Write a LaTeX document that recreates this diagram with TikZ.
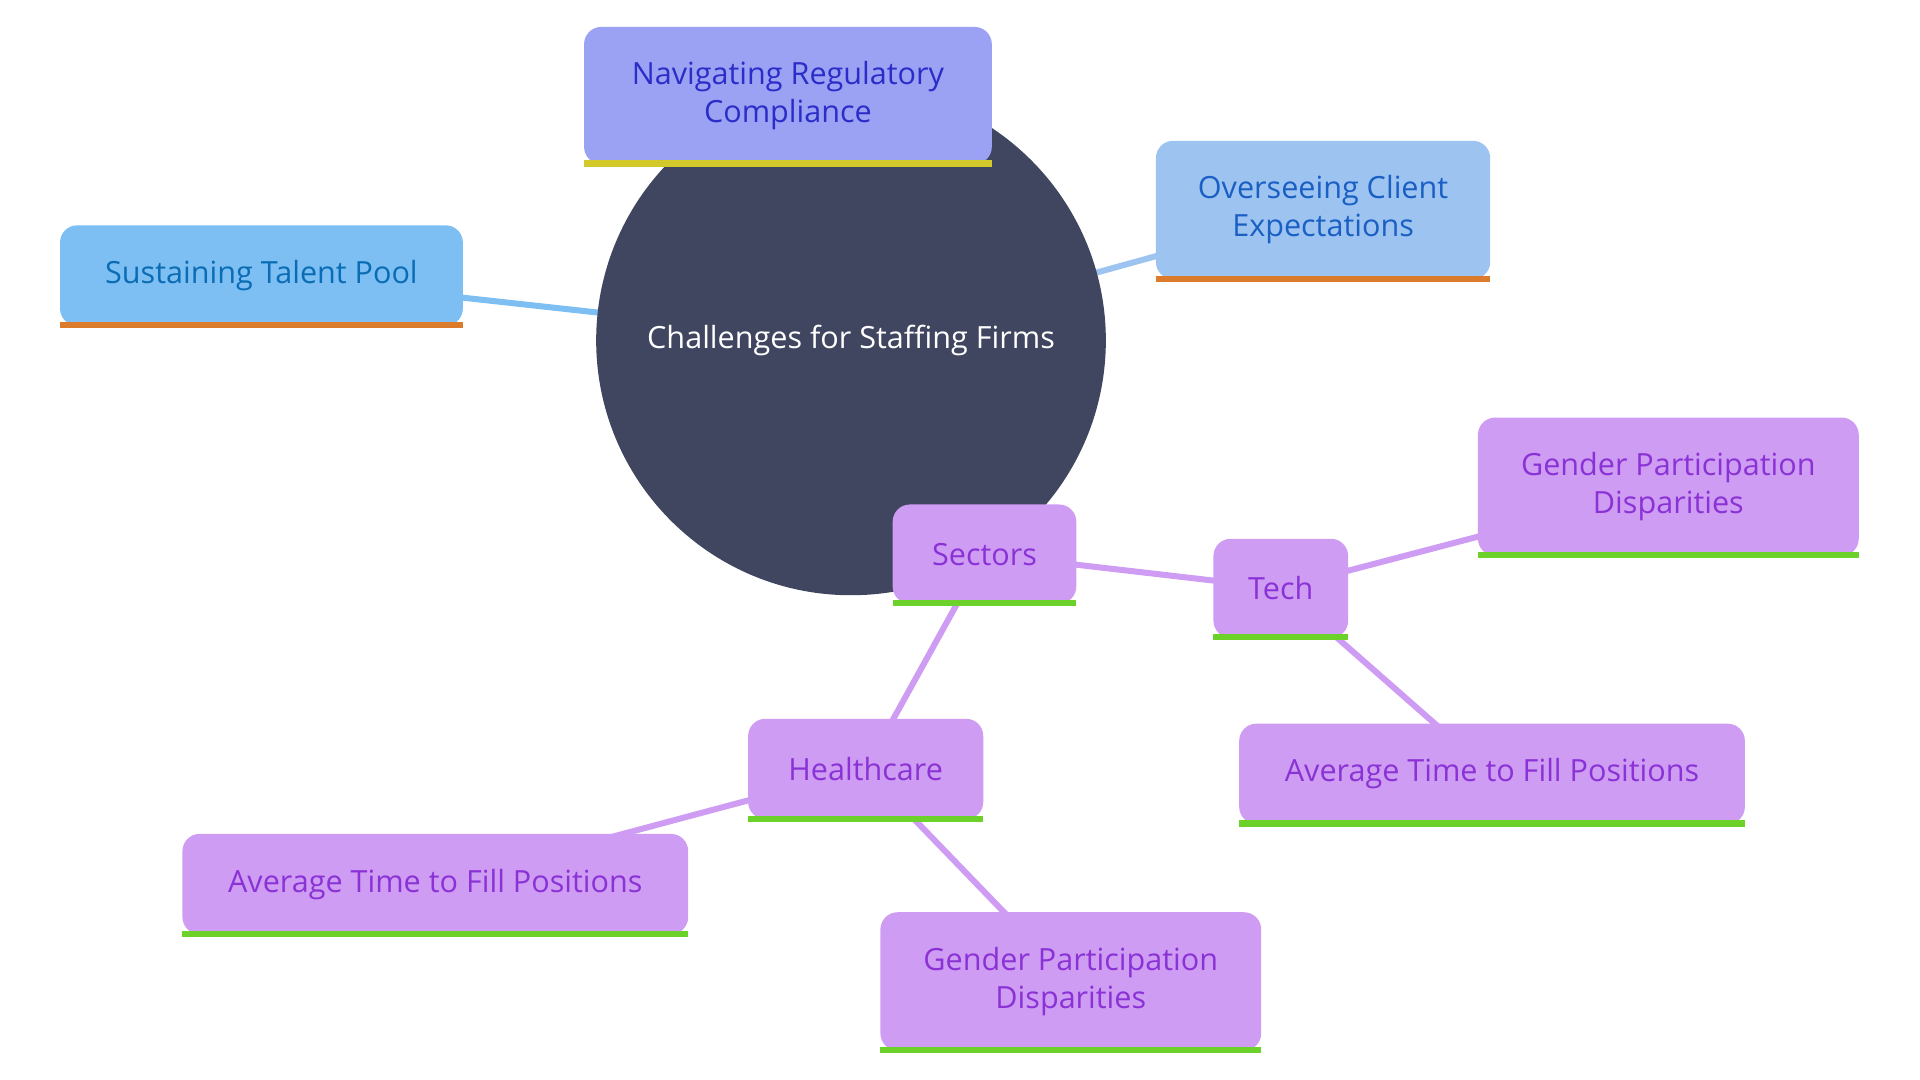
\documentclass[tikz,border=0pt]{standalone}
\usepackage{fontspec}
\setmainfont{Open Sans}
\usetikzlibrary{backgrounds}

\definecolor{hubfill}{HTML}{404560}
\definecolor{talentfill}{HTML}{7DBFF2}
\definecolor{clientfill}{HTML}{9DC3F0}
\definecolor{regfill}{HTML}{9BA2F3}
\definecolor{secfill}{HTML}{CE9CF2}
\definecolor{talenttext}{HTML}{0A6CB4}
\definecolor{clienttext}{HTML}{1A5FC4}
\definecolor{regtext}{HTML}{2A2DC8}
\definecolor{sectext}{HTML}{8A32D6}
\definecolor{orangebar}{HTML}{DB7B2B}
\definecolor{yellowbar}{HTML}{D4C92A}
\definecolor{greenbar}{HTML}{6CD128}

\tikzset{
  box/.style={rectangle, rounded corners=4, inner sep=0pt, align=center,
    font=\fontsize{7.1}{8.8}\selectfont},
  link/.style={line width=1.4pt},
}

% box with its coloured bottom bar: name, x1, y1, x2, y2, fill, text, bar, label
\newcommand\mapbox[9]{
  \node[box, fill=#6, text=#7, minimum width={(#4-#2)*0.01cm}, minimum height={(#5-#3)*0.01cm}]
    (#1) at ({(#2+#4)/2},{(#3+#5)/2-2}) {#9};
  \fill[#8] (#2,#5-5) rectangle (#4,#5);
}

\begin{document}
\begin{tikzpicture}[x=0.01cm,y=-0.01cm]
\useasboundingbox (0,0) rectangle (1568,882);

% the hub
\node[circle, fill=hubfill, minimum size=4.16cm, inner sep=0pt, text=white,
  font=\fontsize{7.1}{8.8}\selectfont] (hub) at (695,278) {Challenges for Staffing Firms};

% the challenges
\mapbox{reg}{477}{24}{810}{136}{regfill}{regtext}{yellowbar}{Navigating Regulatory\\Compliance}
\mapbox{client}{944}{117}{1217}{230}{clientfill}{clienttext}{orangebar}{Overseeing Client\\Expectations}
\mapbox{talent}{49}{186}{378}{268}{talentfill}{talenttext}{orangebar}{Sustaining Talent Pool}

% the sectors
\mapbox{sectors}{729}{414}{879}{495}{secfill}{sectext}{greenbar}{Sectors}
\mapbox{tech}{991}{442}{1101}{523}{secfill}{sectext}{greenbar}{Tech}
\mapbox{techgender}{1207}{343}{1518}{456}{secfill}{sectext}{greenbar}{Gender Participation\\Disparities}
\mapbox{techtime}{1012}{593}{1425}{675}{secfill}{sectext}{greenbar}{Average Time to Fill Positions}
\mapbox{health}{611}{589}{803}{671}{secfill}{sectext}{greenbar}{Healthcare}
\mapbox{healthtime}{149}{683}{562}{765}{secfill}{sectext}{greenbar}{Average Time to Fill Positions}
\mapbox{healthgender}{719}{747}{1030}{860}{secfill}{sectext}{greenbar}{Gender Participation\\Disparities}

\begin{scope}[on background layer]
\draw[link, talentfill] (hub.center) -- (talent.center);
\draw[link, clientfill] (hub.center) -- (client.center);
\draw[link, regfill] (hub.center) -- (reg.center);
\draw[link, secfill] (hub.center) -- (sectors.center);
\draw[link, secfill] (sectors.center) -- (tech.center);
\draw[link, secfill] (tech.center) -- (techgender.center);
\draw[link, secfill] (tech.center) -- (techtime.center);
\draw[link, secfill] (sectors.center) -- (health.center);
\draw[link, secfill] (health.center) -- (healthtime.center);
\draw[link, secfill] (health.center) -- (healthgender.center);
\end{scope}
\end{tikzpicture}
\end{document}
